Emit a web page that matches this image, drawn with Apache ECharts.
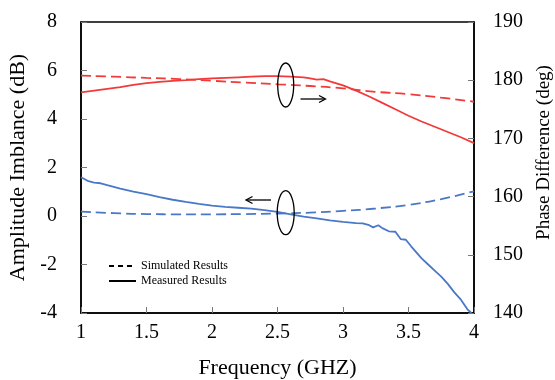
<!DOCTYPE html>
<html><head><meta charset="utf-8">
<script src="https://cdn.jsdelivr.net/npm/echarts@6/dist/echarts.min.js"></script>
<style>html,body{margin:0;padding:0;background:#fff}#c{width:555px;height:380px}</style>
</head><body><div id="c"></div>
<script>
// Phase difference (deg, right axis) — red
const phaseMeasFreq = [1.0,1.1,1.2,1.3,1.4,1.5,1.6,1.7,1.8,1.9,2.0,2.1,2.2,2.3,2.4,2.5,2.6,2.7,2.75,2.8,2.85,2.9,3.0,3.1,3.2,3.3,3.4,3.5,3.6,3.7,3.8,3.9,4.0];
const phaseMeas = [177.9,178.2,178.5,178.8,179.2,179.5,179.7,179.9,180.0,180.2,180.3,180.4,180.5,180.6,180.7,180.7,180.6,180.5,180.3,180.1,180.2,179.8,179.1,178.2,177.2,176.1,175.0,173.9,172.9,172.0,171.1,170.2,169.2];
const phaseSimFreq = [1.0,1.25,1.5,1.75,2.0,2.25,2.5,2.75,3.0,3.25,3.5,3.75,4.0];
const phaseSim = [180.8,180.6,180.4,180.2,179.9,179.6,179.3,179.0,178.6,178.0,177.6,177.0,176.3];
// Amplitude imbalance (dB, left axis) — blue
const ampMeasFreq = [1.0,1.05,1.1,1.15,1.2,1.25,1.3,1.4,1.5,1.6,1.7,1.8,1.9,2.0,2.1,2.2,2.3,2.4,2.5,2.6,2.7,2.8,2.9,3.0,3.1,3.15,3.2,3.23,3.27,3.3,3.35,3.4,3.44,3.48,3.52,3.56,3.6,3.65,3.7,3.75,3.8,3.85,3.9,3.95,3.98];
const ampMeas = [1.60,1.45,1.38,1.35,1.27,1.20,1.13,1.01,0.90,0.78,0.67,0.58,0.50,0.43,0.38,0.34,0.30,0.24,0.17,0.07,-0.03,-0.10,-0.18,-0.24,-0.29,-0.30,-0.38,-0.47,-0.38,-0.50,-0.63,-0.65,-0.95,-0.98,-1.25,-1.50,-1.75,-2.00,-2.25,-2.50,-2.80,-3.15,-3.45,-3.85,-4.0];
const ampSimFreq = [1.0,1.25,1.5,1.75,2.0,2.25,2.5,2.75,3.0,3.25,3.5,3.75,4.0];
const ampSim = [0.18,0.12,0.08,0.07,0.07,0.08,0.10,0.14,0.21,0.31,0.46,0.70,1.02];

const legendNames = ['Simulated Results','Measured Results'];
const xName = 'Frequency (GHZ)';
const yLeftName = 'Amplitude Imblance (dB)';
const yRightName = 'Phase Difference (deg)';

const zip = (a,b) => a.map((v,i)=>[v,b[i]]);
const RED = '#F23A3A', BLUE = '#4A78C8';
const FONT = 'Liberation Serif';

const chart = echarts.init(document.getElementById('c'), null, {renderer:'canvas'});
const axisCommon = {
  axisLine:{show:true,onZero:false,lineStyle:{color:'#000',width:1.5}},
  axisTick:{show:true,inside:true,length:6,lineStyle:{color:'#777',width:1}},
  splitLine:{show:false},
  axisLabel:{color:'#000',fontFamily:FONT,fontSize:20},
  nameTextStyle:{color:'#000',fontFamily:FONT,fontSize:22}
};
chart.setOption({
  animation:false,
  backgroundColor:'#fff',
  grid:{left:81,right:81,top:22,bottom:67,show:true,borderColor:'#000',borderWidth:1.5,
    containLabel:false,outerBoundsMode:'none'},
  xAxis:Object.assign({},axisCommon,{type:'value',min:1,max:4,interval:0.5,
    name:xName,nameLocation:'middle',nameGap:44,
    axisLabel:Object.assign({},axisCommon.axisLabel,{margin:10})}),
  yAxis:[
    Object.assign({},axisCommon,{type:'value',min:-4,max:8,interval:2,position:'left',
      name:yLeftName,nameLocation:'middle',nameGap:47,nameRotate:90,
      axisLabel:Object.assign({},axisCommon.axisLabel,{margin:24})}),
    Object.assign({},axisCommon,{type:'value',min:140,max:190,interval:10,position:'right',
      name:yRightName,nameLocation:'middle',nameGap:61,nameRotate:90,
      nameTextStyle:{color:'#000',fontFamily:FONT,fontSize:19,padding:[0,0,0,30]},
      axisLabel:Object.assign({},axisCommon.axisLabel,{margin:19})})
  ],
  legend:{
    orient:'vertical',left:103,top:255,itemWidth:27,itemHeight:12,itemGap:3,
    itemStyle:{opacity:0},
    textStyle:{color:'#000',fontFamily:FONT,fontSize:12},
    data:legendNames
  },
  series:[
    {name:legendNames[0],type:'line',data:[],symbol:'none',lineStyle:{color:'#000',type:[5,4],width:1.3},itemStyle:{color:'#000'}},
    {name:legendNames[1],type:'line',data:[],symbol:'none',lineStyle:{color:'#000',width:1.3},itemStyle:{color:'#000'}},
    {type:'line',yAxisIndex:1,data:zip(phaseSimFreq,phaseSim),smooth:true,symbol:'none',lineStyle:{color:RED,width:1.8,type:[10,5]}},
    {type:'line',yAxisIndex:1,data:zip(phaseMeasFreq,phaseMeas),symbol:'none',lineStyle:{color:RED,width:1.8}},
    {type:'line',yAxisIndex:0,data:zip(ampSimFreq,ampSim),smooth:true,symbol:'none',lineStyle:{color:BLUE,width:1.8,type:[10,5]}},
    {type:'line',yAxisIndex:0,data:zip(ampMeasFreq,ampMeas),symbol:'none',lineStyle:{color:BLUE,width:1.8}}
  ],
  graphic:[
    {type:'ellipse',shape:{cx:285.7,cy:85,rx:8,ry:22},style:{fill:'none',stroke:'#000',lineWidth:1.3},z:100},
    {type:'ellipse',shape:{cx:285.7,cy:212.7,rx:8.5,ry:22},style:{fill:'none',stroke:'#000',lineWidth:1.3},z:100},
    {type:'line',shape:{x1:300.5,y1:99,x2:325,y2:99},style:{stroke:'#000',lineWidth:1.3},z:100},
    {type:'polyline',shape:{points:[[319,95.5],[325.5,99],[319,102.5]]},style:{stroke:'#000',fill:'none',lineWidth:1.3},z:100},
    {type:'line',shape:{x1:271,y1:200,x2:246.5,y2:200},style:{stroke:'#000',lineWidth:1.3},z:100},
    {type:'polyline',shape:{points:[[252.5,196.5],[246,200],[252.5,203.5]]},style:{stroke:'#000',fill:'none',lineWidth:1.3},z:100}
  ]
});
</script></body></html>
